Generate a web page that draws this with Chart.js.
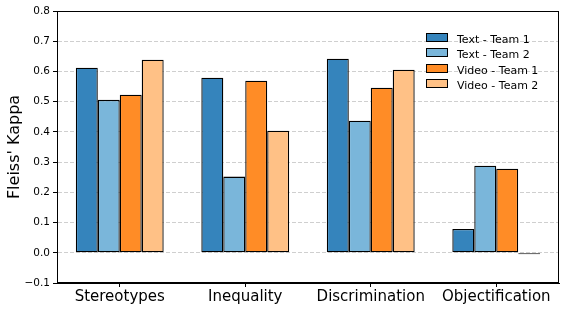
<!DOCTYPE html>
<html>
<head>
<meta charset="utf-8">
<script src="https://cdn.jsdelivr.net/npm/chart.js@4"></script>
<style>
  body { margin: 0; background: #fff; }
  #wrap { position: relative; width: 565px; height: 312px; }
  #legend { position: absolute; left: 426px; top: 33px; font: 11px "DejaVu Sans", sans-serif; color: #000; }
  #legend div { height: 15.3px; line-height: 14px; white-space: nowrap; }
  #legend span { display: inline-block; width: 20px; height: 7px; border: 1px solid #000; margin-right: 9px; vertical-align: 1px; }
</style>
</head>
<body>
<div id="wrap">
  <canvas id="kappaChart" width="565" height="312"></canvas>
  <div id="legend"></div>
</div>
<script>
// values
const categories = ['Stereotypes', 'Inequality', 'Discrimination', 'Objectification'];
const seriesNames = ['Text - Team 1', 'Text - Team 2', 'Video - Team 1', 'Video - Team 2'];
const textTeam1 = [0.612, 0.579, 0.642, 0.079];
const textTeam2 = [0.506, 0.252, 0.437, 0.288];
const videoTeam1 = [0.523, 0.569, 0.546, 0.278];
const videoTeam2 = [0.639, 0.404, 0.606, -0.005];
const colors = ['#3584bc', '#7ab6da', '#ff8c26', '#ffc186'];

const series = [textTeam1, textTeam2, videoTeam1, videoTeam2];

// top + right spines
const frame = {
    id: 'frame',
    afterDraw(chart) {
        const a = chart.chartArea, ctx = chart.ctx;
        ctx.save();
        ctx.strokeStyle = '#000';
        ctx.lineWidth = 1;
        ctx.strokeRect(Math.round(a.left) + 0.5, Math.round(a.top) + 0.5,
            Math.round(a.right - a.left) - 1, Math.round(a.bottom - a.top) - 1);
        ctx.restore();
    }
};

new Chart(document.getElementById('kappaChart'), {
    type: 'bar',
    data: {
        labels: categories,
        datasets: series.map((d, i) => ({
            label: seriesNames[i],
            data: d,
            backgroundColor: colors[i],
            borderColor: '#000',
            borderWidth: 1.3,
            borderSkipped: false,
            categoryPercentage: 0.7,
            barPercentage: 1.0
        }))
    },
    options: {
        responsive: false,
        animation: false,
        layout: { padding: { top: 11, right: 6, left: 0, bottom: 0 } },
        plugins: { legend: { display: false }, tooltip: { enabled: false } },
        scales: {
            x: {
                afterFit: s => { s.height = 29; },
                grid: { offset: false, drawOnChartArea: false, tickLength: 4, tickColor: '#000' },
                border: { color: '#000' },
                ticks: { color: '#000', font: { family: 'DejaVu Sans', size: 15 }, padding: 1 }
            },
            y: {
                min: -0.1,
                max: 0.8,
                afterFit: s => { s.width = 57; },
                title: { display: true, text: "Fleiss' Kappa", color: '#000', font: { family: 'DejaVu Sans', size: 16 }, padding: { top: 5, bottom: 0 } },
                grid: {
                    color: c => (c.index === 0 || c.index === 9) ? 'rgba(0,0,0,0)' : '#cfcfcf',
                    tickColor: '#000',
                    tickLength: 4
                },
                border: { color: '#000', dash: [4, 2] },
                ticks: {
                    stepSize: 0.1,
                    color: '#000',
                    padding: 3,
                    font: { family: 'DejaVu Sans', size: 10.5 },
                    callback: v => (v < 0 ? '\u2212' + Math.abs(v).toFixed(1) : v.toFixed(1))
                }
            }
        }
    },
    plugins: [frame]
});

document.getElementById('legend').innerHTML = seriesNames.map((n, i) =>
    `<div><span style="background:${colors[i]}"></span>${n}</div>`).join('');
</script>
</body>
</html>
